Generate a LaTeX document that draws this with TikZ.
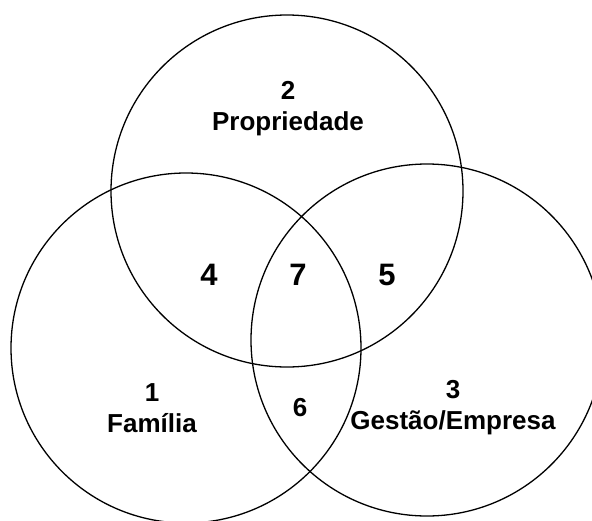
\documentclass[tikz,border=0pt]{standalone}
\usepackage{fontspec}
\setmainfont{Liberation Sans}
\usepackage{tikz}
\usetikzlibrary{positioning,calc}

\begin{document}
\begin{tikzpicture}[x=1pt, y=-1pt,
    ring/.style={line width=1.3pt},
    lbl/.style={font=\bfseries\fontsize{26}{31}\selectfont, align=center, inner sep=0pt},
    big/.style={lbl, font=\bfseries\fontsize{31}{36}\selectfont}]
    % Frame
    \useasboundingbox (0,0) rectangle (592,520);
    \clip (0,0) rectangle (592,520);

    % Circles
    \coordinate (cProp) at (287,191);
    \coordinate (cFam) at (186,348);
    \coordinate (cGest) at (427,340);
    \draw[ring] (cProp) circle [radius=176pt];
    \draw[ring] (cFam) circle [radius=175pt];
    \draw[ring] (cGest) circle [radius=176pt];

    % Regions
    \node[lbl] (prop) at (288,109) {2\\Propriedade};
    \node[lbl] (fam) at (152,408) {1\\Família};
    \node[lbl] (gest) at (453,408) {3\\Gestão/Empresa};
    \node[big] (pf) at (209,275) {4};
    \node[big] (all) at (298,275) {7};
    \node[big] (pg) at (387,275) {5};
    \node[lbl] (fg) at (300,408) {6};
\end{tikzpicture}
\end{document}
